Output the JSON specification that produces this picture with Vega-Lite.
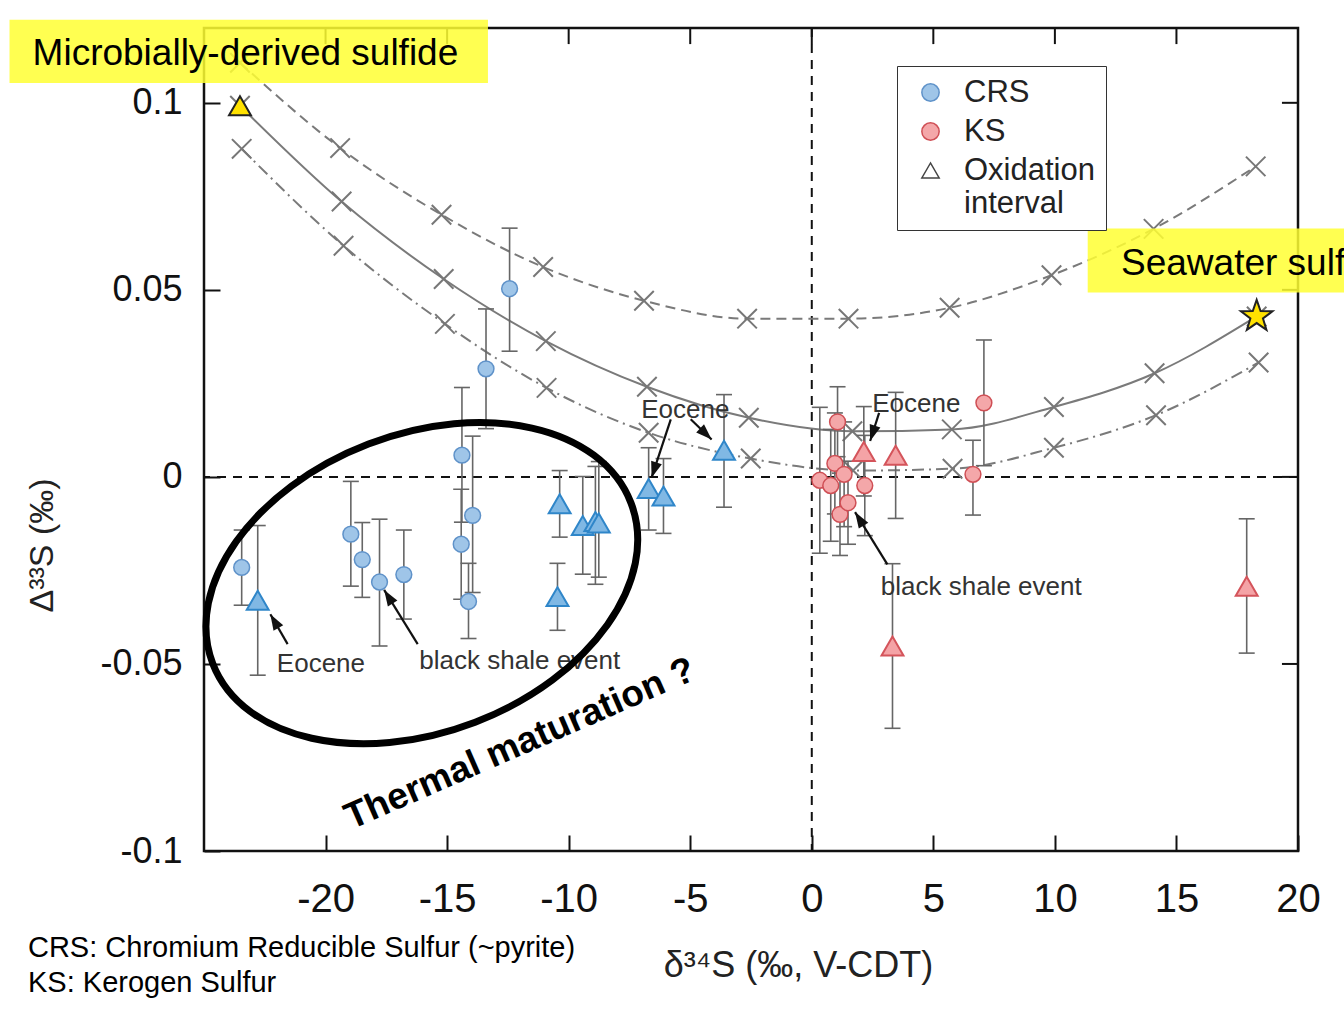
{
  "$schema": "https://vega.github.io/schema/vega-lite/v6.json",
  "width": 1094,
  "height": 823,
  "autosize": {"type": "none"},
  "padding": {"left": 204, "top": 28, "right": 46, "bottom": 159},
  "background": "white",
  "config": {
    "font": "Liberation Sans, Arial, Helvetica, sans-serif",
    "view": {"stroke": "#111111", "strokeWidth": 2.5},
    "axis": {"domain": false, "grid": false, "tickColor": "#111111", "tickWidth": 2, "tickSize": -16, "labelColor": "#111111"},
    "legend": {"orient": "none", "legendX": 693, "legendY": 38, "strokeColor": "#333333", "fillColor": "white",
      "padding": 11, "labelFontSize": 31, "labelColor": "#222222", "labelOffset": 18, "labelLimit": 400, "symbolOffset": 7,
      "symbolStrokeWidth": 1.5, "rowPadding": 7, "symbolSize": 300}
  },
  "datasets": {
    "curves": [
      {"curve": "mid", "x": -23.52, "y": 0.0992},
      {"curve": "mid", "x": -19.34, "y": 0.0736},
      {"curve": "mid", "x": -15.14, "y": 0.0529},
      {"curve": "mid", "x": -10.94, "y": 0.0363},
      {"curve": "mid", "x": -6.78, "y": 0.0241},
      {"curve": "mid", "x": -2.59, "y": 0.0158},
      {"curve": "mid", "x": 1.67, "y": 0.0122},
      {"curve": "mid", "x": 5.76, "y": 0.0127},
      {"curve": "mid", "x": 9.96, "y": 0.0187},
      {"curve": "mid", "x": 14.10, "y": 0.0277},
      {"curve": "mid", "x": 18.30, "y": 0.0429},
      {"curve": "upper", "x": -23.52, "y": 0.1107},
      {"curve": "upper", "x": -19.40, "y": 0.0879},
      {"curve": "upper", "x": -15.23, "y": 0.0701},
      {"curve": "upper", "x": -11.05, "y": 0.0561},
      {"curve": "upper", "x": -6.90, "y": 0.0471},
      {"curve": "upper", "x": -2.66, "y": 0.0423},
      {"curve": "upper", "x": 1.51, "y": 0.0423},
      {"curve": "upper", "x": 5.67, "y": 0.0452},
      {"curve": "upper", "x": 9.86, "y": 0.0539},
      {"curve": "upper", "x": 14.06, "y": 0.0663},
      {"curve": "upper", "x": 18.26, "y": 0.0830},
      {"curve": "lower", "x": -23.45, "y": 0.0877},
      {"curve": "lower", "x": -19.26, "y": 0.0618},
      {"curve": "lower", "x": -15.09, "y": 0.0409},
      {"curve": "lower", "x": -10.91, "y": 0.0238},
      {"curve": "lower", "x": -6.71, "y": 0.0118},
      {"curve": "lower", "x": -2.51, "y": 0.0049},
      {"curve": "lower", "x": 1.70, "y": 0.0017},
      {"curve": "lower", "x": 5.79, "y": 0.0022},
      {"curve": "lower", "x": 9.96, "y": 0.0078},
      {"curve": "lower", "x": 14.16, "y": 0.0165},
      {"curve": "lower", "x": 18.38, "y": 0.0306}
    ],
    "points": [
      {"sample": "CRS", "oxid": false, "x": -23.45, "y": -0.0242, "lo": -0.0343, "hi": -0.0142},
      {"sample": "CRS", "oxid": false, "x": -18.96, "y": -0.0153, "lo": -0.0292, "hi": -0.0012},
      {"sample": "CRS", "oxid": false, "x": -18.49, "y": -0.0221, "lo": -0.0322, "hi": -0.0122},
      {"sample": "CRS", "oxid": false, "x": -17.78, "y": -0.0281, "lo": -0.0452, "hi": -0.0113},
      {"sample": "CRS", "oxid": false, "x": -16.78, "y": -0.0261, "lo": -0.0380, "hi": -0.0142},
      {"sample": "CRS", "oxid": false, "x": -14.39, "y": 0.0058, "lo": -0.0121, "hi": 0.0239},
      {"sample": "CRS", "oxid": false, "x": -14.42, "y": -0.0180, "lo": -0.0327, "hi": -0.0033},
      {"sample": "CRS", "oxid": false, "x": -13.95, "y": -0.0103, "lo": -0.0309, "hi": 0.0109},
      {"sample": "CRS", "oxid": false, "x": -14.12, "y": -0.0333, "lo": -0.0432, "hi": -0.0231},
      {"sample": "CRS", "oxid": false, "x": -13.40, "y": 0.0289, "lo": 0.0129, "hi": 0.0449},
      {"sample": "CRS", "oxid": false, "x": -12.43, "y": 0.0503, "lo": 0.0336, "hi": 0.0665},
      {"sample": "CRS", "oxid": true, "x": -22.79, "y": -0.0330, "lo": -0.0530, "hi": -0.0130},
      {"sample": "CRS", "oxid": true, "x": -10.37, "y": -0.0072, "lo": -0.0161, "hi": 0.0017},
      {"sample": "CRS", "oxid": true, "x": -10.46, "y": -0.0320, "lo": -0.0410, "hi": -0.0231},
      {"sample": "CRS", "oxid": true, "x": -9.42, "y": -0.0130, "lo": -0.0260, "hi": 0.0001},
      {"sample": "CRS", "oxid": true, "x": -8.90, "y": -0.0119, "lo": -0.0287, "hi": 0.0028},
      {"sample": "CRS", "oxid": true, "x": -8.76, "y": -0.0123, "lo": -0.0268, "hi": 0.0041},
      {"sample": "CRS", "oxid": true, "x": -6.71, "y": -0.0031, "lo": -0.0142, "hi": 0.0078},
      {"sample": "CRS", "oxid": true, "x": -6.10, "y": -0.0051, "lo": -0.0151, "hi": 0.0049},
      {"sample": "CRS", "oxid": true, "x": -3.61, "y": 0.0071, "lo": -0.0081, "hi": 0.0220},
      {"sample": "KS", "oxid": false, "x": 0.33, "y": -0.0009, "lo": -0.0204, "hi": 0.0186},
      {"sample": "KS", "oxid": false, "x": 0.78, "y": -0.0023, "lo": -0.0172, "hi": 0.0127},
      {"sample": "KS", "oxid": false, "x": 0.95, "y": 0.0036, "lo": -0.0099, "hi": 0.0171},
      {"sample": "KS", "oxid": false, "x": 1.06, "y": 0.0147, "lo": 0.0054, "hi": 0.0241},
      {"sample": "KS", "oxid": false, "x": 1.16, "y": -0.0100, "lo": -0.0210, "hi": 0.0010},
      {"sample": "KS", "oxid": false, "x": 1.33, "y": 0.0007, "lo": -0.0133, "hi": 0.0147},
      {"sample": "KS", "oxid": false, "x": 1.49, "y": -0.0069, "lo": -0.0180, "hi": 0.0042},
      {"sample": "KS", "oxid": false, "x": 2.18, "y": -0.0023, "lo": -0.0157, "hi": 0.0111},
      {"sample": "KS", "oxid": false, "x": 6.63, "y": 0.0007, "lo": -0.0102, "hi": 0.0098},
      {"sample": "KS", "oxid": false, "x": 7.08, "y": 0.0198, "lo": 0.0030, "hi": 0.0366},
      {"sample": "KS", "oxid": true, "x": 2.14, "y": 0.0068, "lo": -0.0051, "hi": 0.0188},
      {"sample": "KS", "oxid": true, "x": 3.45, "y": 0.0058, "lo": -0.0111, "hi": 0.0226},
      {"sample": "KS", "oxid": true, "x": 3.32, "y": -0.0452, "lo": -0.0672, "hi": -0.0232},
      {"sample": "KS", "oxid": true, "x": 17.89, "y": -0.0292, "lo": -0.0471, "hi": -0.0112}
    ],
    "frameticks": [
      {"x": -20, "x2": -20, "y": 0.12, "y2": 0.1157},
      {"x": -15, "x2": -15, "y": 0.12, "y2": 0.1157},
      {"x": -10, "x2": -10, "y": 0.12, "y2": 0.1157},
      {"x": -5, "x2": -5, "y": 0.12, "y2": 0.1157},
      {"x": 0, "x2": 0, "y": 0.12, "y2": 0.1157},
      {"x": 5, "x2": 5, "y": 0.12, "y2": 0.1157},
      {"x": 10, "x2": 10, "y": 0.12, "y2": 0.1157},
      {"x": 15, "x2": 15, "y": 0.12, "y2": 0.1157},
      {"x": 20, "x2": 19.34, "y": 0.1, "y2": 0.1},
      {"x": 20, "x2": 19.34, "y": 0.05, "y2": 0.05},
      {"x": 20, "x2": 19.34, "y": 0, "y2": 0},
      {"x": 20, "x2": 19.34, "y": -0.05, "y2": -0.05}
    ],
    "arrows": [
      {"x": -21.56, "y": -0.0447, "x2": -22.27, "y2": -0.0367, "angle": 330},
      {"x": -16.21, "y": -0.0447, "x2": -17.59, "y2": -0.0302, "angle": 328},
      {"x": -5.80, "y": 0.0154, "x2": -6.59, "y2": -0.0002, "angle": 198},
      {"x": -4.98, "y": 0.0154, "x2": -4.12, "y2": 0.0100, "angle": 134},
      {"x": 2.77, "y": 0.0171, "x2": 2.40, "y2": 0.0096, "angle": 198},
      {"x": 3.11, "y": -0.0234, "x2": 1.78, "y2": -0.0094, "angle": 328}
    ],
    "labels": [
      {"text": "Eocene", "x": -20.19, "y": -0.0501},
      {"text": "black shale event", "x": -12.01, "y": -0.0493},
      {"text": "Eocene", "x": -5.20, "y": 0.0178},
      {"text": "Eocene", "x": 4.30, "y": 0.0194},
      {"text": "black shale event", "x": 6.97, "y": -0.0293}
    ],
    "boxes": [
      {"x": -33.0, "x2": -13.32, "y": 0.1222, "y2": 0.1053},
      {"x": 11.35, "x2": 30.0, "y": 0.0664, "y2": 0.0493}
    ],
    "boxtext": [
      {"text": "Microbially-derived sulfide", "x": -32.05, "y": 0.1131},
      {"text": "Seawater sulfate", "x": 12.72, "y": 0.0570}
    ],
    "notes": [
      {"text": "CRS: Chromium Reducible Sulfur (~pyrite)", "x": -32.24, "y": -0.1259},
      {"text": "KS: Kerogen Sulfur", "x": -32.24, "y": -0.1352}
    ]
  },
  "layer": [
    {
      "data": {"values": [{"z": 0}]},
      "mark": {"type": "rule", "color": "#111111", "strokeWidth": 2, "strokeDash": [9, 7]},
      "encoding": {
        "x": {"field": "z", "type": "quantitative", "scale": {"domain": [-25, 20], "nice": false, "zero": false},
          "axis": {"orient": "bottom", "values": [-20, -15, -10, -5, 0, 5, 10, 15, 20], "labelExpr": "'' + datum.value",
            "labelFontSize": 40, "labelPadding": 44, "labelBaseline": "top", "labelFlush": false,
            "title": "δ³⁴S (‰, V-CDT)", "titleFontSize": 36, "titleFontWeight": "normal", "titleColor": "#222222",
            "titleX": 594, "titleY": 114, "titleBaseline": "middle", "titleAlign": "center"}}
      }
    },
    {
      "data": {"values": [{"z": 0}]},
      "mark": {"type": "rule", "color": "#111111", "strokeWidth": 2, "strokeDash": [9, 7]},
      "encoding": {
        "y": {"field": "z", "type": "quantitative", "scale": {"domain": [-0.1, 0.12], "nice": false, "zero": false},
          "axis": {"orient": "left", "values": [-0.1, -0.05, 0, 0.05, 0.1], "labelExpr": "'' + datum.value",
            "labelFontSize": 36, "labelPadding": 38, "labelFlush": false,
            "title": "Δ³³S (‰)", "titleFontSize": 34, "titleFontWeight": "normal", "titleColor": "#222222",
            "titleX": -162, "titleY": 517, "titleBaseline": "middle", "titleAlign": "center", "titleAngle": 270}}
      }
    },
    {
      "data": {"name": "frameticks"},
      "mark": {"type": "rule", "color": "#111111", "strokeWidth": 2},
      "encoding": {
        "x": {"field": "x", "type": "quantitative"},
        "x2": {"field": "x2"},
        "y": {"field": "y", "type": "quantitative"},
        "y2": {"field": "y2"}
      }
    },
    {
      "data": {"name": "curves"},
      "transform": [{"filter": "datum.curve == 'mid'"}],
      "mark": {"type": "line", "interpolate": "monotone", "color": "#7a7a7a", "strokeWidth": 2},
      "encoding": {
        "x": {"field": "x", "type": "quantitative"},
        "y": {"field": "y", "type": "quantitative"}
      }
    },
    {
      "data": {"name": "curves"},
      "transform": [{"filter": "datum.curve == 'upper'"}],
      "mark": {"type": "line", "interpolate": "monotone", "color": "#7a7a7a", "strokeWidth": 2, "strokeDash": [10, 6]},
      "encoding": {
        "x": {"field": "x", "type": "quantitative"},
        "y": {"field": "y", "type": "quantitative"}
      }
    },
    {
      "data": {"name": "curves"},
      "transform": [{"filter": "datum.curve == 'lower'"}],
      "mark": {"type": "line", "interpolate": "monotone", "color": "#7a7a7a", "strokeWidth": 2, "strokeDash": [12, 5, 2, 5]},
      "encoding": {
        "x": {"field": "x", "type": "quantitative"},
        "y": {"field": "y", "type": "quantitative"}
      }
    },
    {
      "data": {"name": "curves"},
      "mark": {"type": "point", "shape": "M-1,-1L1,1M-1,1L1,-1", "filled": false, "stroke": "#777777", "strokeWidth": 2, "size": 380, "opacity": 1},
      "encoding": {
        "x": {"field": "x", "type": "quantitative"},
        "y": {"field": "y", "type": "quantitative"}
      }
    },
    {
      "data": {"name": "points"},
      "mark": {"type": "rule", "color": "#666666", "strokeWidth": 1.6},
      "encoding": {
        "x": {"field": "x", "type": "quantitative"},
        "y": {"field": "lo", "type": "quantitative"},
        "y2": {"field": "hi"}
      }
    },
    {
      "data": {"name": "points"},
      "mark": {"type": "tick", "orient": "horizontal", "size": 16, "thickness": 1.6, "color": "#666666", "opacity": 1},
      "encoding": {
        "x": {"field": "x", "type": "quantitative"},
        "y": {"field": "lo", "type": "quantitative"}
      }
    },
    {
      "data": {"name": "points"},
      "mark": {"type": "tick", "orient": "horizontal", "size": 16, "thickness": 1.6, "color": "#666666", "opacity": 1},
      "encoding": {
        "x": {"field": "x", "type": "quantitative"},
        "y": {"field": "hi", "type": "quantitative"}
      }
    },
    {
      "data": {"name": "points"},
      "transform": [{"filter": "!datum.oxid"}],
      "mark": {"type": "point", "filled": true, "strokeWidth": 1.5, "opacity": 1, "size": 250},
      "encoding": {
        "x": {"field": "x", "type": "quantitative"},
        "y": {"field": "y", "type": "quantitative"},
        "fill": {"field": "sample", "type": "nominal", "title": null,
          "scale": {"domain": ["CRS", "KS", "Oxidation interval"], "range": ["#9fc5e8", "#f4a7a9", "#ffffff"]},
          "legend": {"labelExpr": "datum.label == 'Oxidation interval' ? ['Oxidation ', 'interval'] : datum.label"}},
        "stroke": {"field": "sample", "type": "nominal", "title": null,
          "scale": {"domain": ["CRS", "KS", "Oxidation interval"], "range": ["#5f92c9", "#cf4f55", "#444444"]},
          "legend": {"labelExpr": "datum.label == 'Oxidation interval' ? ['Oxidation ', 'interval'] : datum.label"}},
        "shape": {"field": "sample", "type": "nominal", "title": null,
          "scale": {"domain": ["CRS", "KS", "Oxidation interval"], "range": ["circle", "circle", "triangle-up"]},
          "legend": {"labelExpr": "datum.label == 'Oxidation interval' ? ['Oxidation ', 'interval'] : datum.label"}}
      }
    },
    {
      "data": {"name": "points"},
      "transform": [{"filter": "datum.oxid && datum.sample == 'CRS'"}],
      "mark": {"type": "point", "shape": "triangle-up", "filled": true, "fill": "#80b8e4", "stroke": "#2f86c9", "strokeWidth": 2, "size": 480, "opacity": 1},
      "encoding": {
        "x": {"field": "x", "type": "quantitative"},
        "y": {"field": "y", "type": "quantitative"}
      }
    },
    {
      "data": {"name": "points"},
      "transform": [{"filter": "datum.oxid && datum.sample == 'KS'"}],
      "mark": {"type": "point", "shape": "triangle-up", "filled": true, "fill": "#f4a3a6", "stroke": "#d4545b", "strokeWidth": 2, "size": 480, "opacity": 1},
      "encoding": {
        "x": {"field": "x", "type": "quantitative"},
        "y": {"field": "y", "type": "quantitative"}
      }
    },
    {
      "data": {"values": [{"x": -23.52, "y": 0.0992}]},
      "mark": {"type": "point", "shape": "triangle-up", "filled": true, "fill": "#ffe100", "stroke": "#222222", "strokeWidth": 2, "size": 480, "opacity": 1},
      "encoding": {
        "x": {"field": "x", "type": "quantitative"},
        "y": {"field": "y", "type": "quantitative"}
      }
    },
    {
      "data": {"values": [{"x": 18.30, "y": 0.0429}]},
      "mark": {"type": "point", "shape": "M0,-1L0.235,-0.324L0.951,-0.309L0.38,0.124L0.588,0.809L0,0.4L-0.588,0.809L-0.38,0.124L-0.951,-0.309L-0.235,-0.324Z", "filled": true, "fill": "#ffe100", "stroke": "#222222", "strokeWidth": 2, "size": 1100, "opacity": 1},
      "encoding": {
        "x": {"field": "x", "type": "quantitative"},
        "y": {"field": "y", "type": "quantitative"}
      }
    },
    {
      "data": {"name": "arrows"},
      "mark": {"type": "rule", "color": "#111111", "strokeWidth": 2.2},
      "encoding": {
        "x": {"field": "x", "type": "quantitative"},
        "y": {"field": "y", "type": "quantitative"},
        "x2": {"field": "x2"},
        "y2": {"field": "y2"}
      }
    },
    {
      "data": {"name": "arrows"},
      "mark": {"type": "point", "shape": "M0,0L-0.7,2L0.7,2Z", "filled": true, "fill": "#111111", "strokeWidth": 0, "size": 256, "opacity": 1},
      "encoding": {
        "x": {"field": "x2", "type": "quantitative"},
        "y": {"field": "y2", "type": "quantitative"},
        "angle": {"field": "angle", "type": "quantitative", "scale": null}
      }
    },
    {
      "data": {"name": "labels"},
      "mark": {"type": "text", "fontSize": 26, "color": "#333333", "align": "center", "baseline": "middle"},
      "encoding": {
        "x": {"field": "x", "type": "quantitative"},
        "y": {"field": "y", "type": "quantitative"},
        "text": {"field": "text", "type": "nominal"}
      }
    },
    {
      "data": {"values": [{"text": "Thermal maturation ?", "x": -12.0, "y": -0.0714}]},
      "mark": {"type": "text", "fontSize": 37, "fontWeight": "bold", "color": "#000000", "align": "center", "baseline": "middle", "angle": 336.4},
      "encoding": {
        "x": {"field": "x", "type": "quantitative"},
        "y": {"field": "y", "type": "quantitative"},
        "text": {"field": "text", "type": "nominal"}
      }
    },
    {
      "data": {"values": [{"x": -16.04, "y": -0.0284}]},
      "mark": {"type": "point", "shape": "M-1,0A1,0.665,0,1,0,1,0A1,0.665,0,1,0,-1,0Z", "filled": false, "stroke": "#000000", "strokeWidth": 7, "size": 200704, "angle": 339, "opacity": 1},
      "encoding": {
        "x": {"field": "x", "type": "quantitative"},
        "y": {"field": "y", "type": "quantitative"}
      }
    },
    {
      "data": {"name": "boxes"},
      "mark": {"type": "rect", "fill": "#ffff33", "opacity": 0.85},
      "encoding": {
        "x": {"field": "x", "type": "quantitative"},
        "x2": {"field": "x2"},
        "y": {"field": "y", "type": "quantitative"},
        "y2": {"field": "y2"}
      }
    },
    {
      "data": {"name": "boxtext"},
      "mark": {"type": "text", "fontSize": 37, "color": "#000000", "align": "left", "baseline": "middle"},
      "encoding": {
        "x": {"field": "x", "type": "quantitative"},
        "y": {"field": "y", "type": "quantitative"},
        "text": {"field": "text", "type": "nominal"}
      }
    },
    {
      "data": {"name": "notes"},
      "mark": {"type": "text", "fontSize": 29, "color": "#000000", "align": "left", "baseline": "middle"},
      "encoding": {
        "x": {"field": "x", "type": "quantitative"},
        "y": {"field": "y", "type": "quantitative"},
        "text": {"field": "text", "type": "nominal"}
      }
    }
  ]
}
